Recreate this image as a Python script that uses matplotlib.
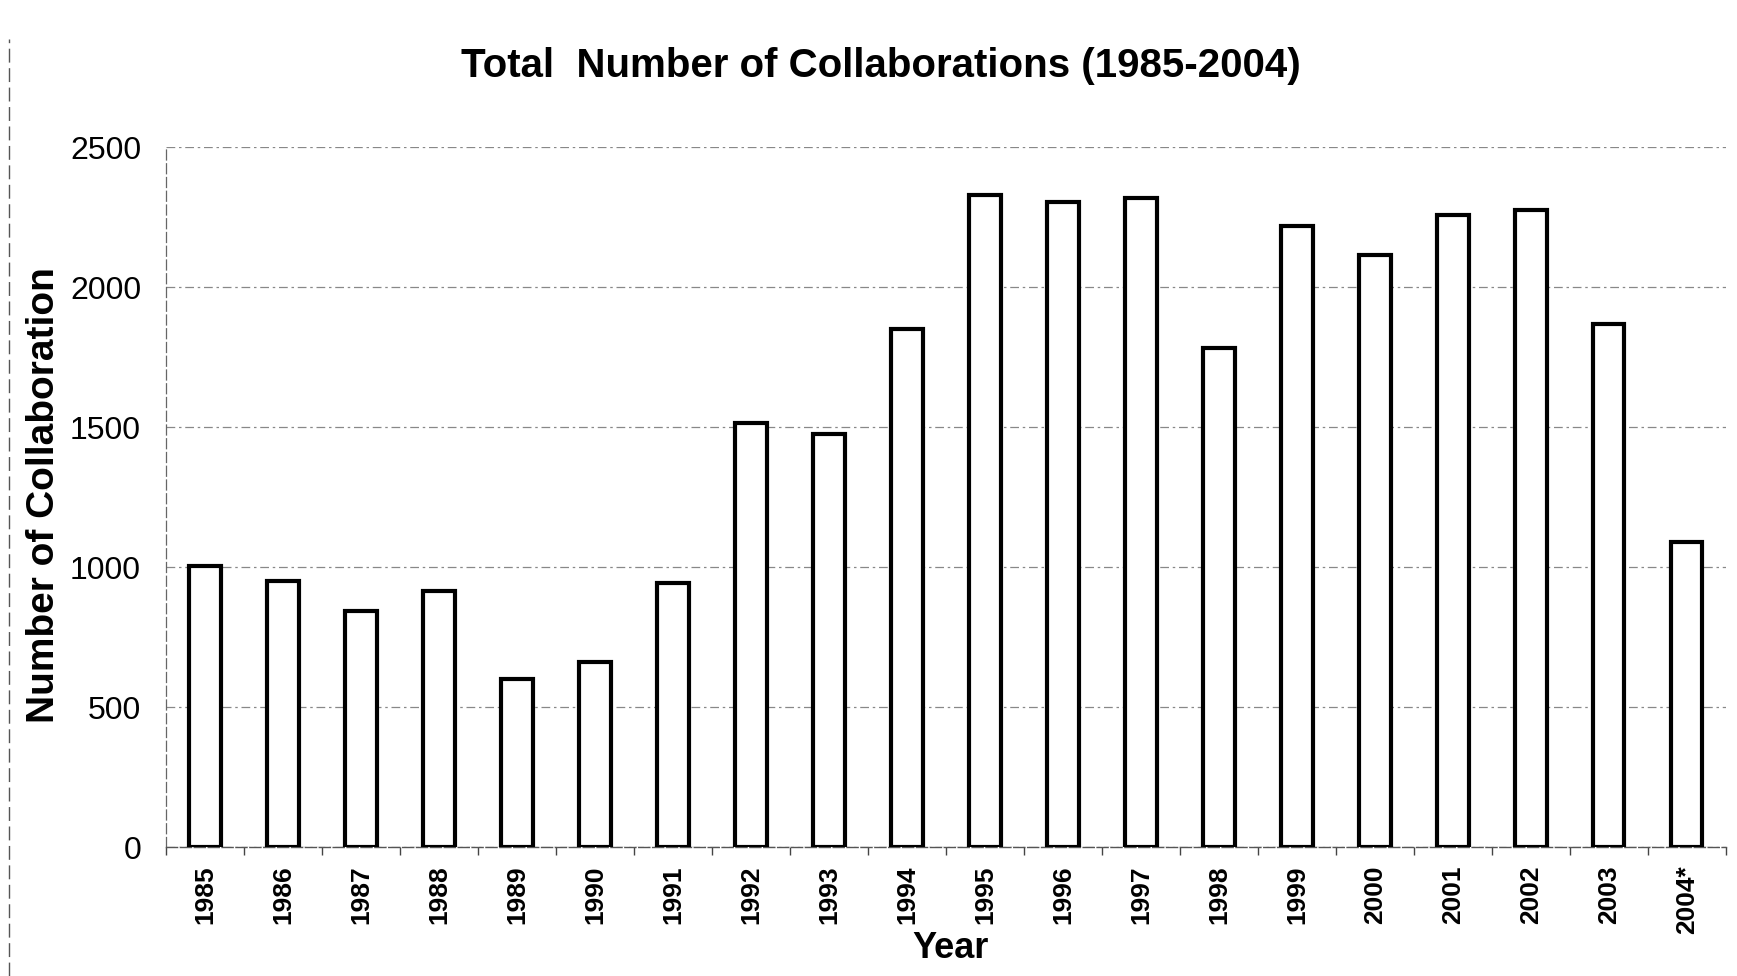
import matplotlib
matplotlib.use('Agg')
from matplotlib import pyplot as plt
from matplotlib.lines import Line2D
import numpy as np

# Données
years = ['1985', '1986', '1987', '1988', '1989', '1990', '1991', '1992', '1993', '1994',
         '1995', '1996', '1997', '1998', '1999', '2000', '2001', '2002', '2003', '2004*']
collaborations = [1005, 950, 845, 915, 600, 660, 945, 1515, 1475, 1850,
                  2330, 2305, 2320, 1785, 2220, 2115, 2260, 2275, 1870, 1090]
y_ticks = [0, 500, 1000, 1500, 2000, 2500]

plt.rcParams['font.family'] = ['Liberation Sans', 'DejaVu Sans']

fig = plt.figure(figsize=(17.37, 9.76), dpi=100)
ax = fig.add_axes([0.0956, 0.132, 0.898, 0.717])

x = np.arange(len(years))
ax.bar(x, collaborations, width=0.40, facecolor='white', edgecolor='black',
       linewidth=3.0, zorder=3)

ax.set_xlim(-0.5, len(years) - 0.5)
ax.set_ylim(0, 2500)
ax.set_yticks(y_ticks)
ax.set_yticklabels([str(t) for t in y_ticks], fontsize=23)
ax.tick_params(axis='y', length=0, pad=18)

# Graduations entre les catégories, étiquettes au centre
ax.set_xticks(np.arange(len(years) + 1) - 0.5)
ax.set_xticklabels([])
ax.set_xticks(x, minor=True)
ax.set_xticklabels(years, minor=True, rotation=90, fontsize=19, fontweight='bold')
ax.tick_params(axis='x', which='major', length=6, width=1, color='#444444', direction='out')
ax.tick_params(axis='x', which='minor', length=0, pad=13)

# Quadrillage en tirets
ax.yaxis.grid(True, linestyle=(0, (7, 3, 2, 3)), color='#888888', linewidth=0.9, zorder=0)
for side in ['top', 'right']:
    ax.spines[side].set_visible(False)
ax.spines['left'].set_linestyle((0, (8, 3)))
ax.spines['left'].set_color('#666666')
ax.spines['left'].set_linewidth(0.9)
ax.spines['bottom'].set_linestyle((0, (8, 2)))
ax.spines['bottom'].set_color('#555555')
ax.spines['bottom'].set_linewidth(1.0)

# Titres
fig.text(0.507, 0.932, 'Total  Number of Collaborations (1985-2004)',
         ha='center', va='center', fontsize=29, fontweight='bold')
fig.text(0.0253, 0.493, 'Number of Collaboration', rotation=90,
         ha='center', va='center', fontsize=28, fontweight='bold')
fig.text(0.547, 0.028, 'Year', ha='center', va='center', fontsize=26, fontweight='bold')

# Bord gauche de la numérisation
fig.add_artist(Line2D([0.005, 0.005], [0.0, 0.96], transform=fig.transFigure,
                      color='#555555', linewidth=1, linestyle=(0, (10, 4))))

plt.savefig('out.png', dpi=100)
plt.close()
